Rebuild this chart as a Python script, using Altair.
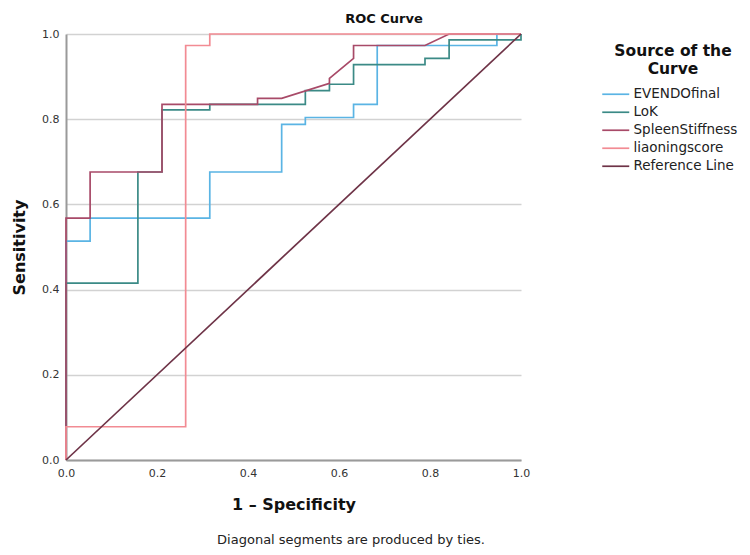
import altair as alt
import pandas as pd

# Curve names and their stroke colours (legend order)
series_names = ["EVENDOfinal", "LoK", "SpleenStiffness", "liaoningscore", "Reference Line"]
series_colors = ["#5ab4e4", "#3b8a86", "#a84a68", "#f28b93", "#6e3347"]

# ROC coordinates: 1 - specificity (fpr) and sensitivity (tpr)
evendo_fpr = [0, 0, 0.053, 0.053, 0.316, 0.316, 0.474, 0.474, 0.526, 0.526,
              0.632, 0.632, 0.684, 0.684, 0.947, 0.947, 1]
evendo_tpr = [0, 0.514, 0.514, 0.568, 0.568, 0.676, 0.676, 0.788, 0.788, 0.804,
              0.804, 0.835, 0.835, 0.973, 0.973, 1, 1]

lok_fpr = [0, 0, 0.158, 0.158, 0.211, 0.211, 0.316, 0.316, 0.526, 0.526,
           0.579, 0.579, 0.632, 0.632, 0.789, 0.789, 0.842, 0.842, 1, 1]
lok_tpr = [0, 0.415, 0.415, 0.676, 0.676, 0.822, 0.822, 0.835, 0.835, 0.867,
           0.867, 0.882, 0.882, 0.928, 0.928, 0.943, 0.943, 0.986, 0.986, 1]

spleen_fpr = [0, 0, 0.053, 0.053, 0.211, 0.211, 0.421, 0.421, 0.474, 0.579,
              0.579, 0.632, 0.632, 0.789, 0.842, 1]
spleen_tpr = [0, 0.568, 0.568, 0.676, 0.676, 0.835, 0.835, 0.849, 0.849, 0.884,
              0.896, 0.943, 0.973, 0.973, 1, 1]

liaoning_fpr = [0, 0, 0.263, 0.263, 0.316, 0.316, 1]
liaoning_tpr = [0, 0.078, 0.078, 0.973, 0.973, 1, 1]

reference_fpr = [0, 1]
reference_tpr = [0, 1]

y_ticks = [0.0, 0.2, 0.4, 0.6, 0.8, 1.0]
x_ticks = [0.0, 0.2, 0.4, 0.6, 0.8, 1.0]

curves = [
    ("EVENDOfinal", evendo_fpr, evendo_tpr),
    ("LoK", lok_fpr, lok_tpr),
    ("SpleenStiffness", spleen_fpr, spleen_tpr),
    ("liaoningscore", liaoning_fpr, liaoning_tpr),
    ("Reference Line", reference_fpr, reference_tpr),
]

rows = []
for rank, (name, fx, ty) in enumerate(curves):
    for i, (a, b) in enumerate(zip(fx, ty)):
        rows.append({"curve": name, "rank": rank, "step": i, "fpr": a, "tpr": b})
df = pd.DataFrame(rows)

FONT = "DejaVu Sans"
PLOT_W, PLOT_H = 455, 426

lines = alt.Chart(df).mark_line(strokeWidth=1.7, clip=False).encode(
    x=alt.X("fpr:Q", scale=alt.Scale(domain=[0, 1], nice=False),
            axis=alt.Axis(title="1 \u2013 Specificity", values=x_ticks, format=".1f",
                          grid=False, ticks=False, labelPadding=7, labelFlush=False,
                          titlePadding=18)),
    y=alt.Y("tpr:Q", scale=alt.Scale(domain=[0, 1], nice=False),
            axis=alt.Axis(title="Sensitivity", values=y_ticks, format=".1f",
                          grid=True, ticks=False, labelPadding=7, labelFlush=False,
                          titlePadding=14)),
    color=alt.Color("curve:N",
                    scale=alt.Scale(domain=series_names, range=series_colors),
                    legend=alt.Legend(title=["Source of the", "Curve"],
                                      symbolType="M-3,0H3", symbolSize=81,
                                      symbolStrokeWidth=1.7)),
    order=alt.Order("step:Q"),
    detail="curve:N",
)

title_text = alt.Chart(pd.DataFrame({"t": ["ROC Curve"]})).mark_text(
    font=FONT, fontSize=13, fontWeight="bold", color="#111", align="center",
    baseline="alphabetic"
).encode(text="t:N", x=alt.value(318), y=alt.value(-11))

note_text = alt.Chart(pd.DataFrame({"t": ["Diagonal segments are produced by ties."]})).mark_text(
    font=FONT, fontSize=13, color="#222", align="center", baseline="middle"
).encode(text="t:N", x=alt.value(285), y=alt.value(506))

chart = alt.layer(lines, title_text, note_text).properties(
    width=PLOT_W, height=PLOT_H,
    autosize=alt.AutoSizeParams(type="none"),
    padding={"left": 66, "top": 34, "right": 750 - 66 - PLOT_W, "bottom": 555 - 34 - PLOT_H},
).configure_view(stroke=None).configure_axis(
    labelFont=FONT, labelFontSize=11, labelColor="#333",
    titleFont=FONT, titleFontSize=16, titleFontWeight="bold", titleColor="#111",
    domainColor="#9a9a9a", domainWidth=2, gridColor="#d2d2d2", gridWidth=1.5,
).configure_legend(
    orient="none", legendX=543, legendY=10,
    titleFont=FONT, titleFontSize=15.5, titleFontWeight="bold", titleColor="#111",
    titleAnchor="middle", titleAlign="center", titleLimit=300, titlePadding=10,
    titleLineHeight=18,
    labelFont=FONT, labelFontSize=13.5, labelColor="#222", labelLimit=300,
    labelOffset=11, rowPadding=3,
)

chart.save("out.html", embed_options={"renderer": "svg", "actions": False})
